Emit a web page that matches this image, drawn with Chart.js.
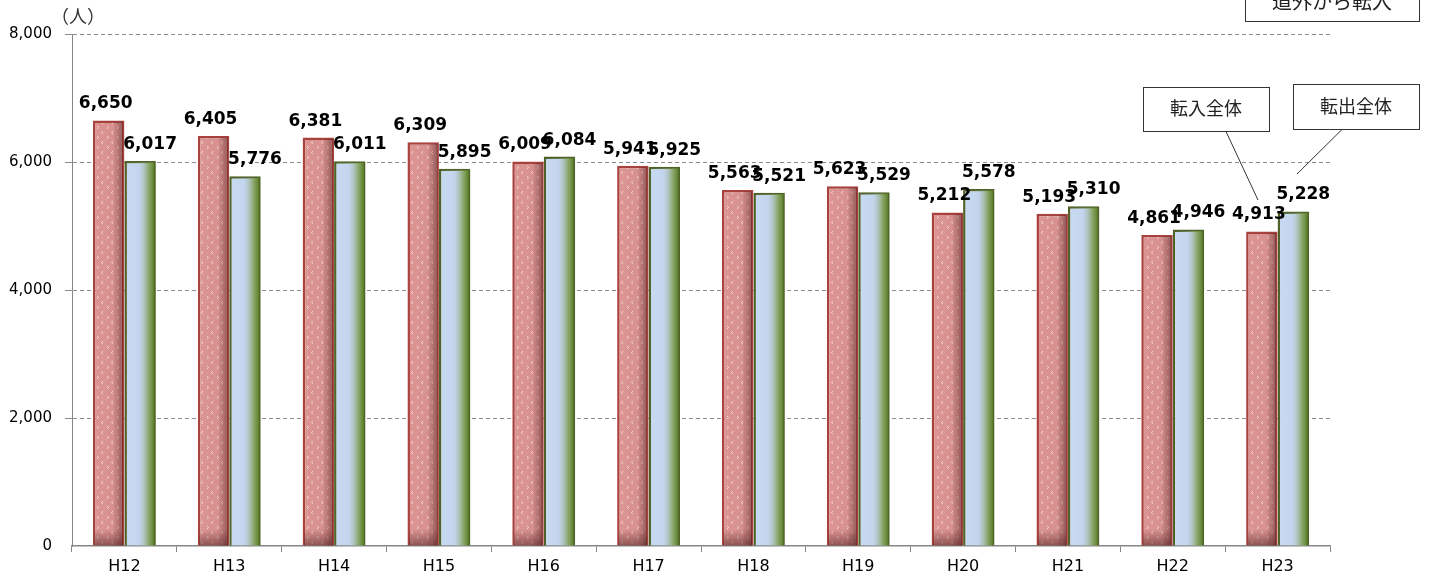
<!DOCTYPE html>
<html>
<head>
<meta charset="utf-8">
<script src="https://cdn.jsdelivr.net/npm/chart.js@4.4.1/dist/chart.umd.min.js"></script>
<style>
  html, body { margin: 0; padding: 0; background: #fff; }
  #wrap { width: 1429px; height: 582px; position: relative; }
</style>
</head>
<body>
<div id="wrap"><canvas id="myChart" width="1429" height="582"></canvas></div>
<script>
// data
var years = ['H12','H13','H14','H15','H16','H17','H18','H19','H20','H21','H22','H23'];
var inflow = [6650, 6405, 6381, 6309, 6009, 5941, 5563, 5623, 5212, 5193, 4861, 4913];   // 転入全体
var outflow = [6017, 5776, 6011, 5895, 6084, 5925, 5521, 5529, 5578, 5310, 4946, 5228];  // 転出全体
var yTicks = [0, 2000, 4000, 6000, 8000];

// dotted pink fill for the red bars
function makeDots(){
    var c = document.createElement('canvas');
    c.width = 10; c.height = 10;
    var g = c.getContext('2d');
    g.fillStyle = '#dc9592';
    g.fillRect(0, 0, 10, 10);
    g.fillStyle = 'rgba(255,255,255,0.6)';
    g.fillRect(2, 1, 1, 1);
    g.fillRect(1, 2, 1, 1);
    g.fillRect(2, 3, 1, 1);
    g.fillRect(7, 6, 1, 1);
    g.fillRect(8, 7, 1, 1);
    g.fillRect(7, 8, 1, 1);
    return g.createPattern(c, 'repeat');
}

var ctx = document.getElementById('myChart').getContext('2d');

// shading on top of each bar, like the office 3d look
var barShade = {
    id: 'barShade',
    afterDatasetDraw: function(chart, args){
        var c = chart.ctx;
        var meta = args.meta;
        meta.data.forEach(function(bar){
            var left = bar.x - bar.width / 2 + 1.5;
            var right = bar.x + bar.width / 2 - 1.5;
            var top = bar.y + 1.5;
            var bottom = bar.base;
            var gr = c.createLinearGradient(left, 0, right, 0);
            if (args.index === 0) {
                gr.addColorStop(0, 'rgba(80,30,30,0)');
                gr.addColorStop(0.65, 'rgba(80,30,30,0.03)');
                gr.addColorStop(1, 'rgba(80,30,30,0.5)');
            } else {
                gr.addColorStop(0, 'rgba(198,217,241,0)');
                gr.addColorStop(0.45, 'rgba(188,204,230,0.25)');
                gr.addColorStop(0.8, 'rgba(125,155,75,0.8)');
                gr.addColorStop(1, 'rgba(90,125,40,1)');
            }
            c.save();
            c.fillStyle = gr;
            c.fillRect(left, top, right - left, bottom - top);
            if (args.index === 0) {
                var vg = c.createLinearGradient(0, bottom - 16, 0, bottom);
                vg.addColorStop(0, 'rgba(80,30,30,0)');
                vg.addColorStop(1, 'rgba(80,30,30,0.55)');
                c.fillStyle = vg;
                c.fillRect(left, bottom - 16, right - left, 16);
            }
            c.restore();
        });
    }
};

// value labels above the bars
var valueLabels = {
    id: 'valueLabels',
    afterDatasetsDraw: function(chart){
        var c = chart.ctx;
        c.save();
        c.font = 'bold 17px "DejaVu Sans"';
        c.fillStyle = '#000';
        c.textAlign = 'center';
        c.textBaseline = 'bottom';
        chart.data.datasets.forEach(function(ds, i){
            chart.getDatasetMeta(i).data.forEach(function(bar, j){
                var dx = i === 0 ? -3 : 10;
                c.fillText(ds.data[j].toLocaleString('en-US'), bar.x + dx, bar.y - 8);
            });
        });
        c.restore();
    }
};

// unit label and callout boxes
var notes = {
    id: 'notes',
    afterDraw: function(chart){
        var c = chart.ctx;
        c.save();
        c.fillStyle = '#333';
        c.font = '18px "Noto Sans CJK JP"';
        c.textAlign = 'center';
        c.textBaseline = 'middle';
        c.fillText('（人）', 78, 16);

        c.strokeStyle = '#333';
        c.lineWidth = 1;
        var boxes = [
            {x: 1245, y: -20, w: 174, h: 41, t: '道外から転入', ty: 1, f: 20},
            {x: 1143, y: 87, w: 126, h: 44, t: '転入全体', ty: 108, f: 18},
            {x: 1293, y: 84, w: 126, h: 45, t: '転出全体', ty: 106, f: 18}
        ];
        boxes.forEach(function(b){
            c.fillStyle = '#fff';
            c.fillRect(b.x + 0.5, b.y + 0.5, b.w, b.h);
            c.strokeRect(b.x + 0.5, b.y + 0.5, b.w, b.h);
            c.fillStyle = '#222';
            c.font = b.f + 'px "Noto Sans CJK JP"';
            c.fillText(b.t, b.x + b.w / 2, b.ty);
        });

        c.beginPath();
        c.moveTo(1226, 131.5);
        c.lineTo(1258, 200);
        c.moveTo(1342, 129.5);
        c.lineTo(1297, 174);
        c.stroke();
        c.restore();
    }
};

var myBarChart = new Chart(ctx, {
    type: 'bar',
    data: {
        labels: years,
        datasets: [{
            label: '転入全体',
            data: inflow,
            backgroundColor: makeDots(),
            borderColor: '#a8423f',
            borderWidth: 2.5,
            borderSkipped: 'bottom'
        }, {
            label: '転出全体',
            data: outflow,
            backgroundColor: '#c6d9f1',
            borderColor: '#4f6228',
            borderWidth: 2.5,
            borderSkipped: 'bottom'
        }]
    },
    options: {
        responsive: false,
        animation: false,
        devicePixelRatio: 1,
        categoryPercentage: 0.6,
        barPercentage: 1,
        layout: { padding: { top: 34, right: 99, bottom: 0, left: 0 } },
        plugins: {
            legend: { display: false },
            tooltip: { enabled: false }
        },
        scales: {
            x: {
                grid: {
                    offset: true,
                    drawOnChartArea: false,
                    color: '#868686',
                    tickLength: 6
                },
                border: { color: '#868686', width: 1.5 },
                ticks: {
                    color: '#000',
                    font: { family: 'DejaVu Sans', size: 16 },
                    padding: 5
                },
                afterFit: function(scale){ scale.height = 36; }
            },
            y: {
                min: 0,
                max: 8000,
                afterBuildTicks: function(scale){
                    scale.ticks = yTicks.map(function(v){ return { value: v }; });
                },
                grid: {
                    color: function(c){ return c.tick && c.tick.value === 0 ? 'rgba(0,0,0,0)' : '#8c8c8c'; },
                    tickLength: 7
                },
                border: { color: '#868686', dash: [4, 3] },
                ticks: {
                    color: '#000',
                    font: { family: 'DejaVu Sans', size: 15 },
                    padding: 13,
                    callback: function(v){ return v.toLocaleString('en-US'); }
                },
                afterFit: function(scale){ scale.width = 72; }
            }
        }
    },
    plugins: [barShade, valueLabels, notes]
});
</script>
</body>
</html>
